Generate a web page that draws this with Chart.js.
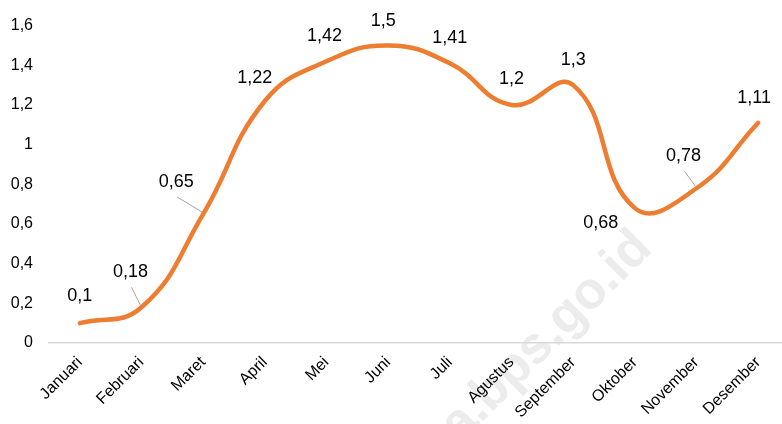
<!DOCTYPE html>
<html>
<head>
<meta charset="utf-8">
<script src="https://cdn.jsdelivr.net/npm/chart.js@4/dist/chart.umd.min.js"></script>
<style>
  html, body { margin: 0; padding: 0; background: #fff; overflow: hidden; }
  #wrap { width: 790px; height: 424px; }
</style>
</head>
<body>
<div id="wrap"><canvas id="chart" width="790" height="424"></canvas></div>
<script>
// ── Data ──
const months = ["Januari", "Februari", "Maret", "April", "Mei", "Juni",
  "Juli", "Agustus", "September", "Oktober", "November", "Desember"];
const values = [0.1, 0.18, 0.65, 1.22, 1.42, 1.5, 1.41, 1.2, 1.3, 0.68, 0.78, 1.11];
const yTicks = [0, 0.2, 0.4, 0.6, 0.8, 1, 1.2, 1.4, 1.6];

// label placement relative to its point (px), and which ones get a leader line
const labelOffsets = [[0, -27], [-11, -35], [-27, -32], [-10, -23], [-2, -25], [-5, -24],
  [0, -25], [0, -26], [0, -25], [-34, 15], [-13, -32], [-4, -25]];
const leaders = [false, true, true, false, false, false, false, false, false, false, true, false];

const fmt = (v) => String(+(+v).toFixed(2)).replace(".", ",");

// faint site watermark behind the chart
const watermark = {
  id: "watermark",
  beforeDraw(chart) {
    const ctx = chart.ctx;
    ctx.save();
    ctx.translate(654, 250);
    ctx.rotate(-Math.PI / 4);
    ctx.font = "bold 52px 'Liberation Sans', Arial, sans-serif";
    ctx.fillStyle = "#ececec";
    ctx.textAlign = "right";
    ctx.textBaseline = "alphabetic";
    ctx.fillText("data.bps.go.id", 0, 0);
    ctx.restore();
  },
};

// value labels, some with a grey leader line
const valueLabels = {
  id: "valueLabels",
  afterDatasetsDraw(chart) {
    const ctx = chart.ctx;
    const meta = chart.getDatasetMeta(0);
    ctx.save();
    ctx.font = "18px 'Liberation Sans', Arial, sans-serif";
    ctx.fillStyle = "#000";
    ctx.textAlign = "center";
    ctx.textBaseline = "middle";
    meta.data.forEach((pt, i) => {
      const [dx, dy] = labelOffsets[i];
      const lx = pt.x + dx, ly = pt.y + dy;
      if (leaders[i]) {
        ctx.strokeStyle = "#a6a6a6";
        ctx.lineWidth = 1;
        ctx.beginPath();
        ctx.moveTo(lx + 1, ly + 15);
        ctx.lineTo(pt.x - 1, pt.y - 2);
        ctx.stroke();
      }
      ctx.fillText(fmt(values[i]), lx, ly);
    });
    ctx.restore();
  },
};

new Chart(document.getElementById("chart"), {
  type: "line",
  data: {
    labels: months,
    datasets: [{
      data: values,
      borderColor: "#ED7D31",
      borderWidth: 4.5,
      borderCapStyle: "round",
      pointRadius: 0,
      tension: 0.45,
      fill: false,
    }],
  },
  options: {
    responsive: false,
    animation: false,
    layout: { padding: { top: 22, right: 1, bottom: 0, left: 0 } },
    scales: {
      x: {
        offset: true,
        grid: { display: false, drawTicks: false, offset: true },
        border: { display: true, color: "#d9d9d9", width: 1.5 },
        ticks: {
          autoSkip: false,
          minRotation: 45,
          maxRotation: 45,
          padding: 10,
          color: "#000",
          font: { family: "'Liberation Sans', Arial, sans-serif", size: 16 },
        },
        afterFit(scale) { scale.height = 81; },
      },
      y: {
        min: 0,
        max: 1.6,
        afterBuildTicks(scale) { scale.ticks = yTicks.map((v) => ({ value: v })); },
        grid: { display: false, drawTicks: false },
        border: { display: false },
        ticks: {
          padding: 16,
          color: "#000",
          font: { family: "'Liberation Sans', Arial, sans-serif", size: 16 },
          callback: (v) => fmt(v),
        },
        afterFit(scale) { scale.width = 49; },
      },
    },
    plugins: {
      legend: { display: false },
      tooltip: { enabled: false },
    },
  },
  plugins: [watermark, valueLabels],
});
</script>
</body>
</html>
